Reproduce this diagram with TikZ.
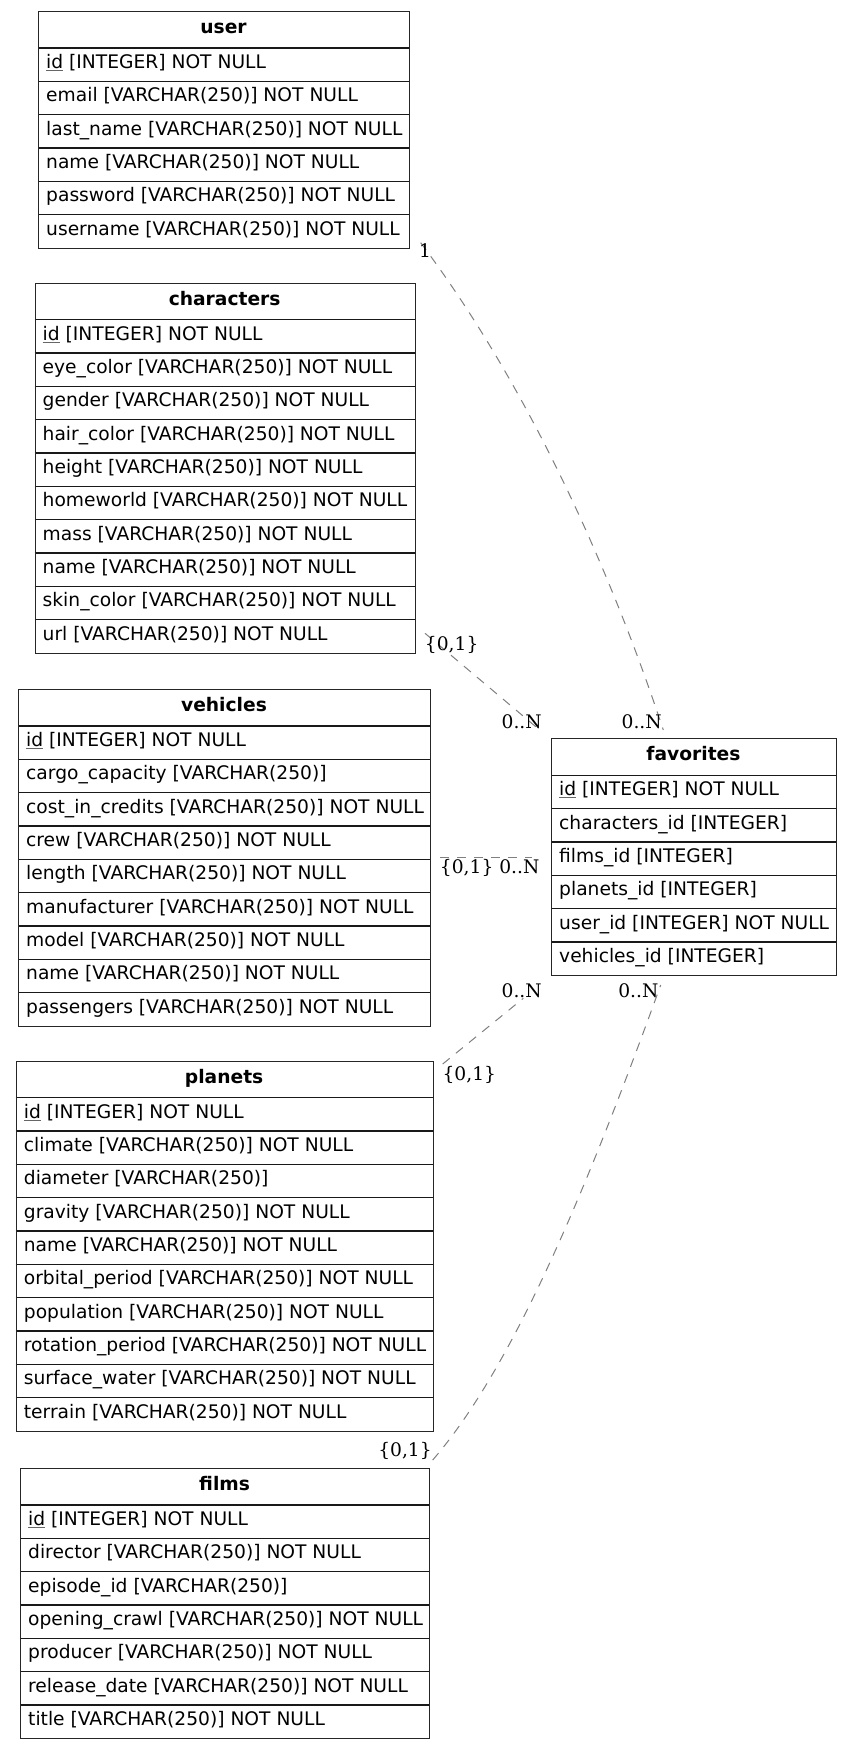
\documentclass[tikz,border=0pt]{standalone}
\usepackage{fontspec}
\setmainfont{DejaVu Sans}
\newfontfamily\cardfont{DejaVu Serif}

% primary key: name underlined with a thin grey rule
\newlength\pkwidth
\newcommand\pk[1]{\settowidth\pkwidth{#1}\rlap{\color{black!60}\rule[-2.6pt]{\pkwidth}{1.1pt}}#1}

\tikzset{
  tableframe/.style={draw=black!85, line width=1.15pt, inner sep=0pt, anchor=north west},
  rowline/.style={draw=black!90, line width=1.15pt},
  rowtext/.style={anchor=base west, inner sep=0pt, font=\fontsize{18.67}{22}\selectfont},
  titletext/.style={anchor=base, inner sep=0pt, font=\fontsize{18.67}{22}\selectfont\bfseries},
  relation/.style={draw=black!50, line width=1pt, dash pattern=on 9pt off 8pt},
  card/.style={anchor=base, inner sep=0pt, font=\cardfont\fontsize{18.67}{22}\selectfont},
}

% #1 name, #2 left, #3 top, #4 right, #5 title; columns come from \erdrowlist
\newcommand\erdtable[5]{%
  \node[titletext] (#1-title) at ({(#2+#4)/2}, #3+22.5) {#5};
  \foreach \rowtxt [count=\i] in \erdrowlist {
    \draw[rowline] (#2, {#3+37+(\i-1)*33.33}) -- (#4, {#3+37+(\i-1)*33.33});
    \node[rowtext] (#1-row\i) at (#2+8, {#3+37+(\i-1)*33.33+20.5}) {\rowtxt};
    \xdef\erdcount{\i}
  }
  \node[tableframe, minimum width={(#4-#2)*1pt}, minimum height={(37+\erdcount*33.33)*1pt}] (#1) at (#2,#3) {};
}

\begin{document}
\begin{tikzpicture}[x=1pt, y=-1pt]
\useasboundingbox[fill=white] (0,0) rectangle (852,1749);

% ---- tables ----
\def\erdrowlist{{\pk{id} [INTEGER] NOT NULL},
  {email [VARCHAR(250)] NOT NULL},
  {last\_name [VARCHAR(250)] NOT NULL},
  {name [VARCHAR(250)] NOT NULL},
  {password [VARCHAR(250)] NOT NULL},
  {username [VARCHAR(250)] NOT NULL}}
\erdtable{user}{38}{11}{409}{user}

\def\erdrowlist{{\pk{id} [INTEGER] NOT NULL},
  {eye\_color [VARCHAR(250)] NOT NULL},
  {gender [VARCHAR(250)] NOT NULL},
  {hair\_color [VARCHAR(250)] NOT NULL},
  {height [VARCHAR(250)] NOT NULL},
  {homeworld [VARCHAR(250)] NOT NULL},
  {mass [VARCHAR(250)] NOT NULL},
  {name [VARCHAR(250)] NOT NULL},
  {skin\_color [VARCHAR(250)] NOT NULL},
  {url [VARCHAR(250)] NOT NULL}}
\erdtable{characters}{34.5}{282.7}{414.8}{characters}

\def\erdrowlist{{\pk{id} [INTEGER] NOT NULL},
  {cargo\_capacity [VARCHAR(250)]},
  {cost\_in\_credits [VARCHAR(250)] NOT NULL},
  {crew [VARCHAR(250)] NOT NULL},
  {length [VARCHAR(250)] NOT NULL},
  {manufacturer [VARCHAR(250)] NOT NULL},
  {model [VARCHAR(250)] NOT NULL},
  {name [VARCHAR(250)] NOT NULL},
  {passengers [VARCHAR(250)] NOT NULL}}
\erdtable{vehicles}{18}{689}{430}{vehicles}

\def\erdrowlist{{\pk{id} [INTEGER] NOT NULL},
  {characters\_id [INTEGER]},
  {films\_id [INTEGER]},
  {planets\_id [INTEGER]},
  {user\_id [INTEGER] NOT NULL},
  {vehicles\_id [INTEGER]}}
\erdtable{favorites}{551}{738.3}{836}{favorites}

\def\erdrowlist{{\pk{id} [INTEGER] NOT NULL},
  {climate [VARCHAR(250)] NOT NULL},
  {diameter [VARCHAR(250)]},
  {gravity [VARCHAR(250)] NOT NULL},
  {name [VARCHAR(250)] NOT NULL},
  {orbital\_period [VARCHAR(250)] NOT NULL},
  {population [VARCHAR(250)] NOT NULL},
  {rotation\_period [VARCHAR(250)] NOT NULL},
  {surface\_water [VARCHAR(250)] NOT NULL},
  {terrain [VARCHAR(250)] NOT NULL}}
\erdtable{planets}{15.7}{1060.7}{432.5}{planets}

\def\erdrowlist{{\pk{id} [INTEGER] NOT NULL},
  {director [VARCHAR(250)] NOT NULL},
  {episode\_id [VARCHAR(250)]},
  {opening\_crawl [VARCHAR(250)] NOT NULL},
  {producer [VARCHAR(250)] NOT NULL},
  {release\_date [VARCHAR(250)] NOT NULL},
  {title [VARCHAR(250)] NOT NULL}}
\erdtable{films}{20}{1468}{429.3}{films}

% ---- relation end points ----
\coordinate (user-p)  at (420.7,242.7);
\coordinate (fav-u)   at (663.3,730);
\coordinate (char-p)  at (425,633.3);
\coordinate (fav-c)   at (541.7,731.7);
\coordinate (veh-p)   at (440,857);
\coordinate (fav-v)   at (532,857);
\coordinate (plan-p)  at (442.7,1064);
\coordinate (fav-p)   at (523.3,998.3);
\coordinate (film-p)  at (432.7,1460);
\coordinate (fav-f)   at (660.7,985);

% ---- relations ----
\draw[relation] (user-p) .. controls (533,392.7) and (613.8,580) .. (fav-u);
\draw[relation] (char-p) -- (fav-c);
\draw[relation] (veh-p) -- (fav-v);
\draw[relation] (plan-p) -- (fav-p);
\draw[relation] (film-p) .. controls (515,1365) and (590,1180) .. (fav-f);

% ---- cardinalities ----
\node[card] (k-user)  at (425,257.5) {1};
\node[card] (k-favu)  at (641.7,728.5) {0..N};
\node[card] (k-char)  at (451.7,650.1) {\{0,1\}};
\node[card] (k-favc)  at (521.7,728.5) {0..N};
\node[card] (k-veh)   at (466.7,873.5) {\{0,1\}};
\node[card] (k-favv)  at (519.3,873.5) {0..N};
\node[card] (k-plan)  at (469.3,1080.1) {\{0,1\}};
\node[card] (k-favp)  at (521.7,997.5) {0..N};
\node[card] (k-film)  at (405,1456.8) {\{0,1\}};
\node[card] (k-favf)  at (638.3,997.5) {0..N};
\end{tikzpicture}
\end{document}
